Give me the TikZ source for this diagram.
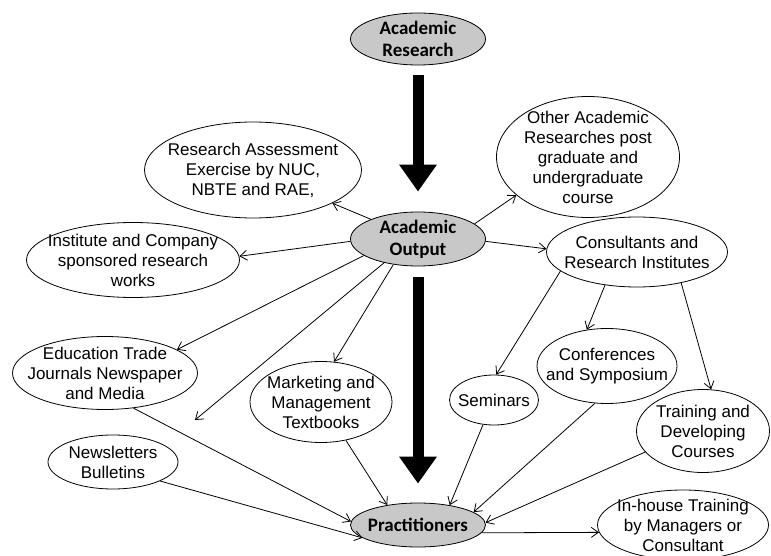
\documentclass[tikz,border=0pt]{standalone}
\usepackage{fontspec}
\setmainfont{Liberation Sans}
\newfontfamily\calibri{Carlito}
\usetikzlibrary{arrows.meta,shapes.geometric}
\definecolor{hubgray}{HTML}{C8C8C8}
\newcommand{\bubtext}{\fontsize{17}{20}\selectfont}
\newcommand{\hubtext}{\calibri\bfseries\fontsize{19}{22}\selectfont}

\begin{document}
\begin{tikzpicture}[
  x=1pt, y=-1pt,
  every node/.style={align=center},
  bub/.style={ellipse, draw=black, line width=0.8pt, inner sep=-30pt, font=\bubtext},
  hub/.style={bub, fill=hubgray, font=\hubtext},
  sz/.style 2 args={minimum width=#1pt, minimum height=#2pt},
  arr/.style={-{Straight Barb[length=7pt,width=10pt]}, line width=0.8pt},
  bigarr/.style={-{Triangle[length=27pt,width=36pt]}, line width=11pt},
]
  \useasboundingbox (0,0) rectangle (771,556);

  \node[hub, sz={135}{52}] (research) at (418,39) {Academic\\Research};
  \node[hub, sz={135}{54}] (output) at (418,239) {Academic\\Output};
  \node[hub, sz={135}{44}] (practice) at (418,525) {Practitioners};
  \node[bub, sz={217}{96}] (assess) at (253,170) {Research Assessment\\Exercise by NUC,\\NBTE and RAE,};
  \node[bub, sz={183}{121}] (other) at (588,157) {Other Academic\\Researches post\\graduate and\\undergraduate\\course};
  \node[bub, sz={213}{75}] (sponsor) at (133,260) {Institute and Company\\sponsored research\\works};
  \node[bub, sz={181}{70}] (consult) at (637,252) {Consultants and\\Research Institutes};
  \node[bub, sz={185}{73}] (trade) at (105,373) {Education Trade\\Journals Newspaper\\and Media};
  \node[bub, sz={142}{81}] (books) at (321,402) {Marketing and\\Management\\Textbooks};
  \node[bub, sz={89}{50}] (seminar) at (494,400) {Seminars};
  \node[bub, sz={140}{75}] (confer) at (607,366) {Conferences\\and Symposium};
  \node[bub, sz={133}{83}] (courses) at (703,431) {Training and\\Developing\\Courses};
  \node[bub, sz={130}{54}] (news) at (113,462) {Newsletters\\Bulletins};
  \node[bub, sz={171}{70}] (inhouse) at (683,525) {In-house Training\\by Managers or\\Consultant};
  \coordinate (loose) at (195,420);

  % main flow
  \draw[bigarr, shorten <=10pt, shorten >=20pt] (research) -- (output);
  \draw[bigarr, shorten <=11pt, shorten >=19pt] (output) -- (practice);

  % outputs
  \draw[arr] (output) -- (assess);
  \draw[arr] (output.15) -- (other.208);
  \draw[arr] (output.182) -- (sponsor.2);
  \draw[arr] (output.358) -- (consult.178);
  \draw[arr] (output.197) -- (trade.18);
  \draw[arr] (output.215) -- (loose);
  \draw[arr] (output.226) -- (books.72);
  \draw[arr] (consult.194) -- (seminar.85);
  \draw[arr] (consult.226) -- (confer.119);
  \draw[arr] (consult.325) -- (courses.79);

  % into practice
  \draw[arr] (trade.309) -- (practice.177);
  \draw[arr] (news.338) -- (practice.193);
  \draw[arr] (books.303) -- (practice.147);
  \draw[arr] (seminar.246) -- (practice.32);
  \draw[arr] (confer.252) -- (practice.13);
  \draw[arr] (courses.200) -- (practice.2);
  \draw[arr] (practice.353) -- (inhouse.185);
\end{tikzpicture}
\end{document}
